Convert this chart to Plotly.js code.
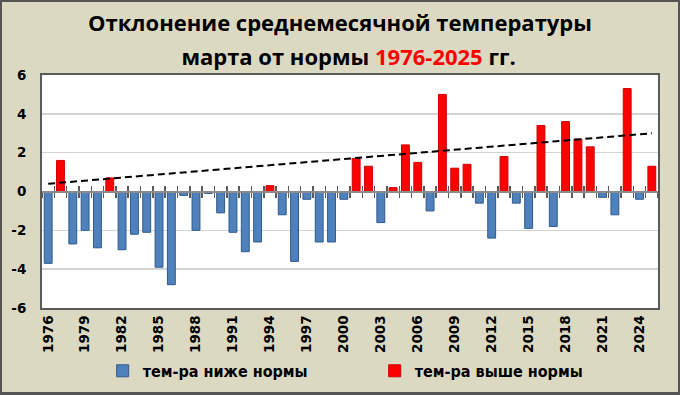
<!DOCTYPE html>
<html>
<head>
<meta charset="utf-8">
<script src="https://cdn.plot.ly/plotly-3.0.1.min.js"></script>
<style>
  html, body { margin: 0; padding: 0; background: #DCD9C3; }
  #wrap { position: relative; width: 680px; height: 395px; }
  #chart { width: 680px; height: 395px; }
  #frame { position: absolute; left: 0; top: 0; width: 680px; height: 395px; box-sizing: border-box;
           border-style: solid; border-color: #555555; border-width: 2px 2px 3px 2px; pointer-events: none; }
</style>
</head>
<body>
<div id="wrap"><div id="chart"></div><div id="frame"></div></div>
<script>
const years = [1976,1977,1978,1979,1980,1981,1982,1983,1984,1985,
               1986,1987,1988,1989,1990,1991,1992,1993,1994,1995,
               1996,1997,1998,1999,2000,2001,2002,2003,2004,2005,
               2006,2007,2008,2009,2010,2011,2012,2013,2014,2015,
               2016,2017,2018,2019,2020,2021,2022,2023,2024,2025];
const anomalies = [-3.7, 1.6,-2.7,-2.0,-2.9, 0.7,-3.0,-2.2,-2.1,-3.9,
                   -4.8,-0.2,-2.0,-0.1,-1.1,-2.1,-3.1,-2.6, 0.3,-1.2,
                   -3.6,-0.4,-2.6,-2.6,-0.4, 1.7, 1.3,-1.6, 0.2, 2.4,
                    1.5,-1.0, 5.0, 1.2, 1.4,-0.6,-2.4, 1.8,-0.6,-1.9,
                    3.4,-1.8, 3.6, 2.7, 2.3,-0.3,-1.2, 5.3,-0.4, 1.3];
const trendYears = [1976, 2025];
const trendValues = [0.4, 3.0];
const xTickYears = [1976,1979,1982,1985,1988,1991,1994,1997,2000,2003,2006,2009,2012,2015,2018,2021,2024];
const yTicks = [-6,-4,-2,0,2,4,6];
const seriesNames = ['тем-ра ниже нормы', 'тем-ра выше нормы'];
const titleLine1 = 'Отклонение среднемесячной температуры';
const titleLine2a = 'марта от нормы';
const titleLine2b = '1976-2025';
const titleLine2c = 'гг.';

const below = anomalies.map(v => v < 0 ? v : null);
const above = anomalies.map(v => v >= 0 ? v : null);
const boundaries = years.map(y => y - 0.5).concat([years[years.length - 1] + 0.5]);
const xRange = [years[0] - 0.5, years[years.length - 1] + 0.5];

const tickFont = { family: 'DejaVu Sans', size: 13.5, color: '#000000', weight: 'bold' };

const traces = [
  { type: 'bar', x: years, y: below, name: seriesNames[0], width: 0.64,
    marker: { color: '#4F81BD', line: { color: '#2E5A8C', width: 1 } }, hoverinfo: 'x+y' },
  { type: 'bar', x: years, y: above, name: seriesNames[1], width: 0.64,
    marker: { color: '#FF0000', line: { color: '#D00000', width: 1 } }, hoverinfo: 'x+y' },
  { type: 'scatter', mode: 'lines', x: trendYears, y: trendValues, showlegend: false,
    line: { color: '#000000', width: 2, dash: '7px,4px' }, hoverinfo: 'skip' },
  { type: 'scatter', x: [], y: [], xaxis: 'x2', yaxis: 'y', showlegend: false, hoverinfo: 'skip' },
  { type: 'scatter', x: [], y: [], xaxis: 'x3', yaxis: 'y', showlegend: false, hoverinfo: 'skip' }
];

const S = 'font-size:22px';
const layout = {
  width: 680, height: 395,
  paper_bgcolor: '#DCD9C3', plot_bgcolor: '#FFFFFF',
  margin: { l: 42, r: 22, t: 75, b: 87 },
  barmode: 'overlay',
  showlegend: true,
  title: {
    text: '<span style="' + S + '">' + titleLine1 + '</span><br>' +
          '<span style="' + S + '">&nbsp;&nbsp;&nbsp;' + titleLine2a + '&nbsp;</span>' +
          '<span style="' + S + ';color:#FF0000">' + titleLine2b + '</span>' +
          '<span style="' + S + '">&nbsp;' + titleLine2c + '</span>',
    font: { family: 'Open Sans', size: 26, color: '#000000', weight: 'bold' },
    x: 0.5, xref: 'container', xanchor: 'center',
    y: 0.922, yref: 'container', yanchor: 'top'
  },
  xaxis: {
    range: xRange, tickvals: xTickYears, ticktext: xTickYears.map(String),
    tickangle: -90, tickfont: tickFont, ticks: '',
    showline: true, mirror: true, linecolor: '#5A5A5A', linewidth: 2,
    showgrid: false, zeroline: false, fixedrange: true, automargin: false
  },
  xaxis2: {
    overlaying: 'x', anchor: 'free', position: 0.5, range: xRange,
    tickvals: boundaries, ticks: 'inside', ticklen: 5, tickwidth: 1.5, tickcolor: '#5A5A5A',
    showticklabels: false, showline: true, linecolor: '#8C8C8C', linewidth: 2,
    showgrid: false, zeroline: false, fixedrange: true
  },
  xaxis3: {
    overlaying: 'x', anchor: 'free', position: 0.5, range: xRange,
    tickvals: boundaries, ticks: 'outside', ticklen: 5, tickwidth: 1.5, tickcolor: '#5A5A5A',
    showticklabels: false, showline: false,
    showgrid: false, zeroline: false, fixedrange: true
  },
  yaxis: {
    range: [-6, 6], tickvals: yTicks, ticktext: yTicks.map(String), tickfont: tickFont,
    ticks: 'outside', ticklen: 11, tickcolor: 'rgba(0,0,0,0)',
    showgrid: true, gridcolor: '#D4D4D4', gridwidth: 1.5,
    zeroline: false, showline: true, mirror: true, linecolor: '#5A5A5A', linewidth: 2,
    fixedrange: true, automargin: false
  },
  legend: {
    orientation: 'h', xref: 'container', yref: 'container',
    x: 0.151, xanchor: 'left', y: 0.061, yanchor: 'middle',
    font: { family: 'DejaVu Sans Condensed, DejaVu Sans', size: 16, color: '#000000', weight: 'bold' },
    bgcolor: 'rgba(0,0,0,0)', entrywidth: 227, itemwidth: 30
  }
};

Plotly.newPlot('chart', traces, layout, { displayModeBar: false, staticPlot: true });
</script>
</body>
</html>
